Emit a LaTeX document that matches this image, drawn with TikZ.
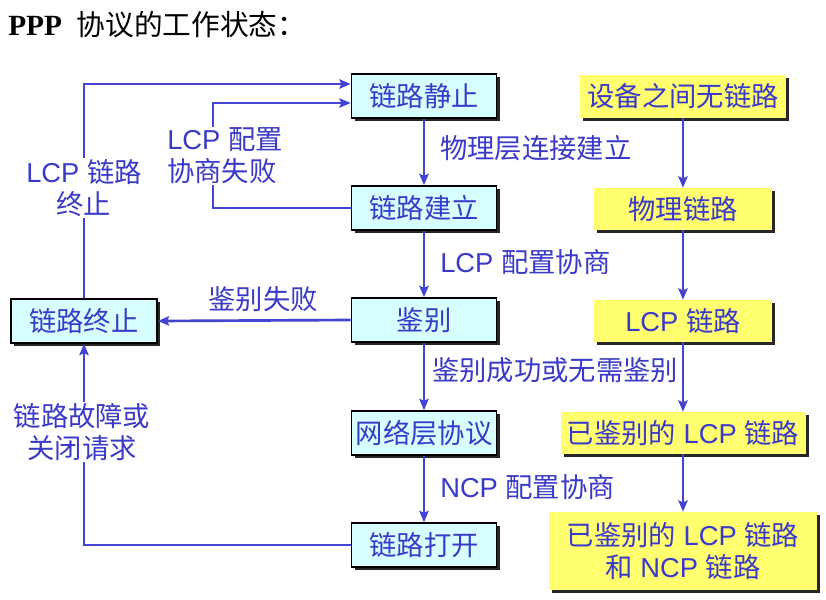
\documentclass[tikz,border=0pt]{standalone}
\usepackage{fontspec}
\setmainfont{Noto Sans CJK SC}
\newfontfamily\lat{Liberation Sans}
\newfontfamily\ser{Liberation Serif}
\usetikzlibrary{arrows.meta,shadows}
\definecolor{lineblue}{RGB}{68,68,210}
\definecolor{txtblue}{RGB}{58,58,200}
\definecolor{boxcyan}{RGB}{215,255,255}
\definecolor{boxyellow}{RGB}{255,255,112}
\begin{document}
\begin{tikzpicture}[x=0.75pt,y=-0.75pt,
  every node/.style={font=\fontsize{20.5}{24}\selectfont, text=txtblue},
  shad/.style={drop shadow={shadow xshift=2.5pt, shadow yshift=-2.5pt, fill=black!85, opacity=1}},
  cyanbox/.style={shad, draw=black, line width=1.2pt, fill=boxcyan, minimum width=108.75pt, minimum height=33pt, inner sep=0pt},
  yelbox/.style={shad, fill=boxyellow, minimum height=31.5pt, inner sep=0pt, align=center},
  conn/.style={draw=lineblue, line width=2pt, -{Stealth[length=8.5pt,width=7pt,inset=1.5pt]}},
  lbl/.style={fill=white, inner sep=1pt, align=center},
  side/.style={anchor=west, inner sep=0pt}
]
\fill[white] (0,0) rectangle (826,600);
\useasboundingbox (0,0) rectangle (826,600);

% title
\node[anchor=base west, text=black, inner sep=0pt] (title) at (8,35)
  {{\ser\bfseries\fontsize{22}{26}\selectfont PPP}\hspace{11pt}{\fontsize{21.5}{26}\selectfont 协议的工作状态：}};

% left state column
\node[cyanbox] (s1) at (424,96) {链路静止};
\node[cyanbox] (s2) at (424,208) {链路建立};
\node[cyanbox] (s3) at (424,320) {鉴别};
\node[cyanbox] (s4) at (424,433) {网络层协议};
\node[cyanbox] (s5) at (424,545) {链路打开};
\node[cyanbox, minimum width=109.5pt] (t) at (84,321) {链路终止};

% right yellow column
\node[yelbox, minimum width=154.5pt, minimum height=32.25pt] (y1) at (683,96) {设备之间无链路};
\node[yelbox, minimum width=133.5pt] (y2) at (683,209) {物理链路};
\node[yelbox, minimum width=133.5pt] (y3) at (683,321) {{\lat LCP }链路};
\node[yelbox, minimum width=183.75pt] (y4) at (683,433) {已鉴别的{\lat{} LCP }链路};
\node[yelbox, minimum width=201pt, minimum height=58.5pt, font=\fontsize{20.5}{24.5}\selectfont] (y5) at (683,551) {已鉴别的{\lat{} LCP }链路\\和{\lat{} NCP }链路};

% connectors
\draw[conn] (s1) -- (s2);
\draw[conn] (s2) -- (s3);
\draw[conn] (s3) -- (s4);
\draw[conn] (s4) -- (s5);
\draw[conn] (y1) -- (y2);
\draw[conn] (y2) -- (y3);
\draw[conn] (y3) -- (y4);
\draw[conn] (y4) -- (y5);
\draw[conn] (s3.west) -- (t.east);
\draw[conn] (t.north) |- ([yshift=9pt]s1.west);
\coordinate (k1) at (213,103);
\draw[conn] (s2.west) -| (k1) -- ([yshift=-5.25pt]s1.west);
\draw[conn] (s5.west) -| (t.south);

% labels
\node[lbl] (l1) at (84,188) {{\lat LCP }链路\\终止};
\node[lbl, align=left] (l2) at (225,156) {{\lat LCP }配置\\协商失败};
\node[lbl] (l3) at (82,432) {链路故障或\\关闭请求};
\node[inner sep=0pt] (l4) at (263,299) {鉴别失败};
\node[side] (l5) at (440,148) {物理层连接建立};
\node[side] (l6) at (440,262) {{\lat LCP }配置协商};
\node[side] (l7) at (432,370) {鉴别成功或无需鉴别};
\node[side] (l8) at (440,487) {{\lat NCP }配置协商};
\end{tikzpicture}
\end{document}
